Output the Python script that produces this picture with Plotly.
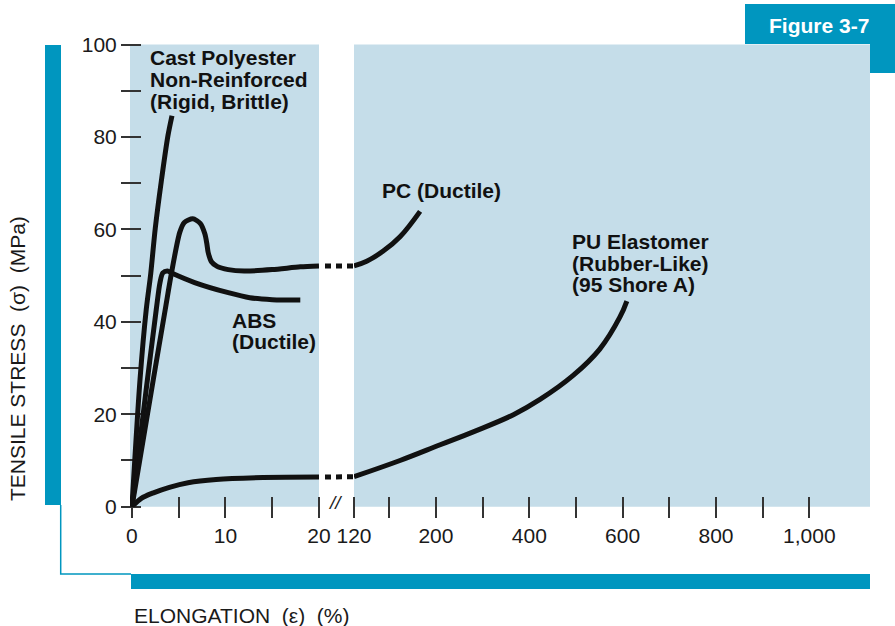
import plotly.graph_objects as go

W, H = 895, 626

# ---------------- data: elongation (%) vs tensile stress (MPa) ----------------
# 0-20 % section of the elongation scale
cast_x = [0, 0.86, 1.53, 2.0, 2.49, 3.13, 3.85, 4.28]
cast_y = [0, 27.5, 42.7, 50.3, 60.2, 70.3, 80.3, 84.6]

abs_x = [0, 1.5, 2.6, 3.0, 3.3, 3.8, 4.3, 6.7, 10.3, 12.6, 15.0, 18.0]
abs_y = [0, 25.0, 42.7, 48.5, 50.6, 51.0, 50.5, 48.5, 46.3, 45.2, 44.8, 44.7]

pc_x = [0, 2.28, 3.56, 4.2, 5.1, 5.6, 6.5, 7.3, 7.8, 8.0, 8.15, 8.5, 9.1, 10.3, 12.0, 15.0, 18.0, 20.0]
pc_y = [0, 27.5, 42.7, 50.3, 59.3, 61.5, 62.3, 61.3, 59.0, 57.0, 55.0, 53.0, 52.0, 51.3, 51.0, 51.3, 51.9, 52.1]

pu_x = [0, 1.0, 2.3, 4.0, 6.0, 9.0, 14.0, 20.0]
pu_y = [0, 1.8, 3.0, 4.2, 5.2, 5.9, 6.3, 6.4]

# section beyond the axis break
far_start = 24.4
pc_far_x = [far_start, 51.6, 87, 123, 166]
pc_far_y = [52.1, 53.1, 55.3, 58.4, 63.9]

pu_far_x = [far_start, 123, 209, 280, 366, 423, 494, 551, 594, 609]
pu_far_y = [6.5, 10.0, 13.4, 16.2, 19.9, 23.2, 28.4, 34.1, 41.0, 44.5]

# tick marks and labels
y_ticks = [0, 10, 20, 30, 40, 50, 60, 70, 80, 90, 100]
y_labels = ["0", "", "20", "", "40", "", "60", "", "80", "", "100"]
near_ticks = [0, 5, 10, 15, 20]
near_labels = ["0", "", "10", "", "20"]
far_ticks = [far_start, 100, 200, 300, 400, 500, 600, 700, 800, 900, 1000]
far_labels = ["120", "", "200", "", "400", "", "600", "", "800", "", "1,000"]

# ---------------- styling ----------------
TEAL = "#0096bf"
PANEL = "#c5dde9"
INK = "#111111"
FONT = "Liberation Sans, Arial, Helvetica, sans-serif"
LW = 5


def fx(p):
    return p / W


def fy(p):
    return 1 - p / H


fig = go.Figure()


def curve(x, y, xa, smooth=1.0):
    fig.add_trace(go.Scatter(
        x=x, y=y, xaxis=xa, yaxis="y", mode="lines",
        line=dict(color=INK, width=LW, shape="spline", smoothing=smooth),
        hoverinfo="skip", showlegend=False,
    ))


curve(cast_x, cast_y, "x", 0.8)
curve(abs_x, abs_y, "x", 0.8)
curve(pc_x, pc_y, "x", 0.7)
curve(pu_x, pu_y, "x", 1.0)
curve(pc_far_x, pc_far_y, "x2", 1.1)
curve(pu_far_x, pu_far_y, "x2", 1.1)

# dotted bridges across the axis break
for y_end, y_start in ((pc_y[-1], pc_far_y[0]), (pu_y[-1], pu_far_y[0])):
    fig.add_trace(go.Scatter(
        x=[0, 1], y=[y_end, y_start], xaxis="x3", yaxis="y", mode="lines",
        line=dict(color=INK, width=LW, dash="0px,6px,6px,5px,6px,5px,6px,5px"),
        hoverinfo="skip", showlegend=False,
    ))

tickfont = dict(family=FONT, size=21, color="#1a1a1a")
common_x = dict(
    anchor="free", position=fy(496), ticks="outside", ticklen=21, tickwidth=1.5,
    tickcolor="#333333", showline=False, showgrid=False, zeroline=False,
    tickmode="array", tickfont=tickfont, layer="below traces", automargin=False,
)

fig.update_layout(
    width=W, height=H,
    margin=dict(l=0, r=0, t=0, b=0, pad=0, autoexpand=False),
    paper_bgcolor="white",
    plot_bgcolor="rgba(0,0,0,0)",
    showlegend=False,
    xaxis=dict(domain=[fx(130), fx(319)], range=[-0.21, 20],
               tickvals=near_ticks, ticktext=near_labels, **common_x),
    xaxis2=dict(domain=[fx(354), fx(870)], range=[far_start, 1130],
                tickvals=far_ticks, ticktext=far_labels, **common_x),
    xaxis3=dict(domain=[fx(319), fx(354)], range=[0, 1], anchor="y", visible=False,
                automargin=False),
    yaxis=dict(domain=[fy(506.7), fy(44.5)], range=[0, 100], anchor="free",
               position=fx(141), ticks="outside", ticklen=20, tickwidth=1.5,
               tickcolor="#333333", showline=False, showgrid=False, zeroline=False,
               tickmode="array", tickvals=y_ticks, ticktext=y_labels,
               tickfont=tickfont, layer="below traces", automargin=False),
)

shapes = [
    # plot panels
    dict(type="rect", xref="x domain", yref="y domain", x0=0, x1=1, y0=0, y1=1,
         fillcolor=PANEL, line=dict(width=0), layer="below"),
    dict(type="rect", xref="x2 domain", yref="y domain", x0=0, x1=1, y0=0, y1=1,
         fillcolor=PANEL, line=dict(width=0), layer="below"),
    # teal frame
    dict(type="rect", xref="paper", yref="paper", x0=fx(45), x1=fx(61), y0=fy(505), y1=fy(45),
         fillcolor=TEAL, line=dict(width=0), layer="below"),
    dict(type="rect", xref="paper", yref="paper", x0=fx(131), x1=fx(870), y0=fy(589), y1=fy(574),
         fillcolor=TEAL, line=dict(width=0), layer="below"),
    dict(type="path", xref="paper", yref="paper",
         path=f"M {fx(60.7)} {fy(505)} L {fx(60.7)} {fy(574)} L {fx(131)} {fy(574)}",
         line=dict(color=TEAL, width=1.5), layer="below"),
    dict(type="rect", xref="paper", yref="paper", x0=fx(745), x1=fx(895), y0=fy(44), y1=fy(4),
         fillcolor=TEAL, line=dict(width=0), layer="below"),
    dict(type="rect", xref="paper", yref="paper", x0=fx(870), x1=fx(895), y0=fy(73), y1=fy(44),
         fillcolor=TEAL, line=dict(width=0), layer="below"),
]
fig.update_layout(shapes=shapes)

annotations = []


def label(text, x, y, size=21, color=INK, xanchor="left", angle=0, bold=True):
    annotations.append(dict(
        text=f"<b>{text}</b>" if bold else text,
        x=fx(x), y=fy(y), xref="paper", yref="paper",
        xanchor=xanchor, yanchor="middle", showarrow=False, textangle=angle,
        font=dict(family=FONT, size=size, color=color),
    ))


label("Figure 3-7", 819, 25, color="white", xanchor="center")

for i, line in enumerate(["Cast Polyester", "Non-Reinforced", "(Rigid, Brittle)"]):
    label(line, 148, 58 + 21.7 * i)
label("PC (Ductile)", 380, 190)
for i, line in enumerate(["ABS", "(Ductile)"]):
    label(line, 230, 320 + 21.7 * i)
for i, line in enumerate(["PU Elastomer", "(Rubber-Like)", "(95 Shore A)"]):
    label(line, 570, 241.7 + 21.3 * i)

label("TENSILE STRESS\u00a0\u00a0(\u03c3)\u00a0\u00a0(MPa)", 17, 359, color="#1a1a1a",
      xanchor="center", angle=-90, bold=False)
label("ELONGATION\u00a0\u00a0(\u03b5)\u00a0\u00a0(%)", 132, 615, color="#1a1a1a", bold=False)
label("<i>//</i>", 335, 502, size=19, color="#1a1a1a", xanchor="center", bold=False)

fig.update_layout(annotations=annotations)

fig.write_html("out.html")
